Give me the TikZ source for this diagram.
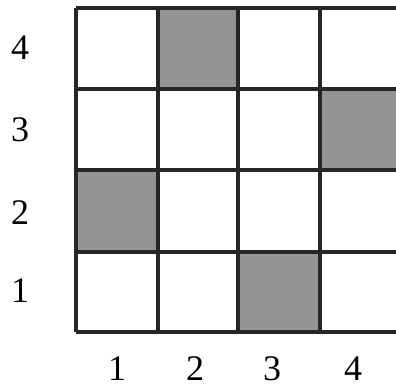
\documentclass[tikz,border=0pt]{standalone}
\usepackage{fontspec}
\setmainfont{Liberation Serif}
\begin{document}
\begin{tikzpicture}[x=1pt,y=-1pt,
  gridline/.style={line width=3.2pt,draw=black!85},
  shade/.style={fill=black!42},
  lab/.style={font=\fontsize{36}{40}\selectfont,inner sep=0pt,anchor=center}]
\useasboundingbox (0,0) rectangle (396,387);
\begin{scope}
\clip (0,0) rectangle (396,387);
% shaded cells
\fill[shade] (158,8) rectangle (238,89);
\fill[shade] (320,89) rectangle (402,170);
\fill[shade] (76,170) rectangle (158,252);
\fill[shade] (238,252) rectangle (320,332);
% grid lines
\foreach \y in {8,89,170,252,332} \draw[gridline] (76,\y) -- (402,\y);
\foreach \x in {76,158,238,320,402} \draw[gridline] (\x,8) -- (\x,332);
\end{scope}
\node[lab] (r4) at (20,48) {4};
\node[lab] (r3) at (20,130) {3};
\node[lab] (r2) at (20,213) {2};
\node[lab] (r1) at (20,291) {1};
\node[lab] (c1) at (117,369) {1};
\node[lab] (c2) at (195,369) {2};
\node[lab] (c3) at (272,369) {3};
\node[lab] (c4) at (353,369) {4};
\end{tikzpicture}
\end{document}
